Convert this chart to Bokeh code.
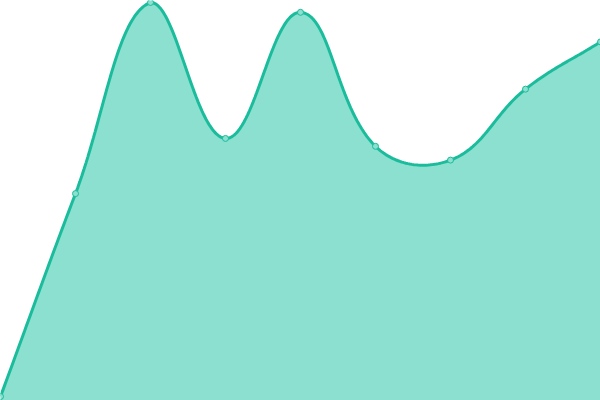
import numpy as np
from bokeh.plotting import figure
from bokeh.models import Range1d
from bokeh.embed import file_html
from bokeh.resources import INLINE

# data
labels = ["A", "B", "C", "D", "E", "F", "G", "H", "I"]
values = [0, 51.5, 100, 65.5, 97.5, 63.5, 60, 78, 90]

W, H = 600, 400
x_lo, x_hi = 0, len(values) - 1
y_lo, y_hi = -1.0, 100.5

LINE = "#1abc9c"
FILL = "#8be0cf"

p = figure(width=W, height=H, output_backend="svg", toolbar_location=None,
           x_range=Range1d(x_lo, x_hi), y_range=Range1d(y_lo, y_hi),
           min_border=0)
p.axis.visible = False
p.grid.visible = False
p.outline_line_color = None
p.background_fill_color = "white"

# Chart.js style spline (tension 0.4), computed in screen proportions
xs = np.arange(len(values), dtype=float)
ys = np.array(values, dtype=float)
sx = W / (x_hi - x_lo)
sy = H / (y_hi - y_lo)
px = xs * sx
py = ys * sy
t = 0.4
n = len(px)
cp_prev = np.zeros((n, 2))
cp_next = np.zeros((n, 2))
for i in range(n):
    prev = (px[max(i - 1, 0)], py[max(i - 1, 0)])
    cur = (px[i], py[i])
    nxt = (px[min(i + 1, n - 1)], py[min(i + 1, n - 1)])
    d01 = np.hypot(cur[0] - prev[0], cur[1] - prev[1])
    d12 = np.hypot(nxt[0] - cur[0], nxt[1] - cur[1])
    tot = d01 + d12
    s01 = d01 / tot if tot else 0
    s12 = d12 / tot if tot else 0
    fa, fb = t * s01, t * s12
    dx, dy = nxt[0] - prev[0], nxt[1] - prev[1]
    cp_prev[i] = (cur[0] - fa * dx, cur[1] - fa * dy)
    cp_next[i] = (cur[0] + fb * dx, cur[1] + fb * dy)

ymax_px = (y_hi - 0) * sy
ymin_px = (y_lo) * sy
cp_prev[:, 1] = np.clip(cp_prev[:, 1], ymin_px, ymax_px)
cp_next[:, 1] = np.clip(cp_next[:, 1], ymin_px, ymax_px)
cp_prev[:, 0] = np.clip(cp_prev[:, 0], 0, W)
cp_next[:, 0] = np.clip(cp_next[:, 0], 0, W)

cx, cy = [], []
tt = np.linspace(0, 1, 40)
for i in range(n - 1):
    p0 = np.array([px[i], py[i]])
    p1 = cp_next[i]
    p2 = cp_prev[i + 1]
    p3 = np.array([px[i + 1], py[i + 1]])
    seg = ((1 - tt)[:, None] ** 3 * p0 + 3 * ((1 - tt) ** 2 * tt)[:, None] * p1
           + 3 * ((1 - tt) * tt ** 2)[:, None] * p2 + (tt ** 3)[:, None] * p3)
    if i > 0:
        seg = seg[1:]
    cx.extend(seg[:, 0] / sx)
    cy.extend(seg[:, 1] / sy)

cx = np.array(cx)
cy = np.array(cy)

p.varea(x=cx, y1=np.full_like(cx, y_lo), y2=cy, fill_color=FILL, fill_alpha=1.0)
p.line(x=cx, y=cy, line_color=LINE, line_width=3)
p.scatter(x=xs, y=ys, size=6, fill_color=FILL, line_color=LINE, line_width=1)

open("out.html", "w").write(file_html(p, INLINE))
